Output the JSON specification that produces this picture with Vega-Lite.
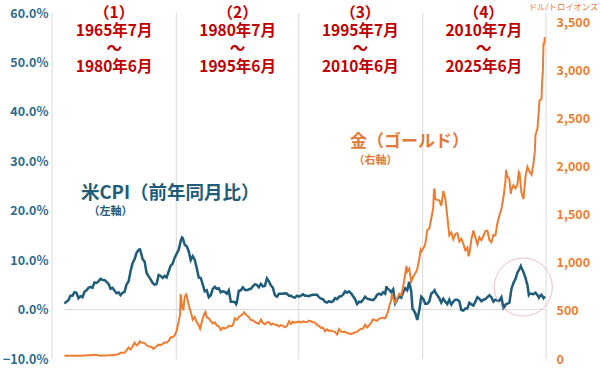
{
"$schema": "https://vega.github.io/schema/vega-lite/v6.json",
"width": 494, "height": 346,
"autosize": {"type": "none"},
"padding": {"left": 52, "top": 13, "right": 54, "bottom": 32},
"background": "white",
"config": {"view": {"stroke": null}, "font": "Noto Sans CJK JP"},
"datasets": {
"cpi": [
{"t":1965.5,"v":1.2},{"t":1965.75,"v":1.6},{"t":1966.0,"v":1.9},{"t":1966.25,"v":2.8},{"t":1966.5,"v":2.8},{"t":1966.75,"v":3.5},{"t":1967.0,"v":3.4},{"t":1967.25,"v":2.3},{"t":1967.5,"v":2.7},{"t":1967.75,"v":2.5},
{"t":1968.0,"v":3.6},{"t":1968.25,"v":3.9},{"t":1968.5,"v":4.4},{"t":1968.75,"v":4.6},{"t":1969.0,"v":4.4},{"t":1969.25,"v":5.5},{"t":1969.5,"v":5.4},{"t":1969.75,"v":5.7},
{"t":1970.0,"v":6.2},{"t":1970.25,"v":6.0},{"t":1970.5,"v":6.0},{"t":1970.75,"v":5.6},{"t":1971.0,"v":5.2},{"t":1971.25,"v":4.2},{"t":1971.5,"v":4.4},{"t":1971.75,"v":3.8},
{"t":1972.0,"v":3.3},{"t":1972.25,"v":3.5},{"t":1972.5,"v":2.9},{"t":1972.75,"v":3.4},{"t":1973.0,"v":3.6},{"t":1973.25,"v":5.1},{"t":1973.5,"v":5.7},{"t":1973.75,"v":7.8},
{"t":1974.0,"v":9.4},{"t":1974.25,"v":10.2},{"t":1974.5,"v":11.5},{"t":1974.75,"v":12.1},{"t":1974.917,"v":12.2},{"t":1975.0,"v":11.8},{"t":1975.25,"v":10.2},{"t":1975.5,"v":9.7},{"t":1975.75,"v":7.4},
{"t":1976.0,"v":6.7},{"t":1976.25,"v":6.1},{"t":1976.5,"v":5.4},{"t":1976.75,"v":5.0},{"t":1977.0,"v":5.2},{"t":1977.25,"v":7.0},{"t":1977.5,"v":6.8},{"t":1977.75,"v":6.4},
{"t":1978.0,"v":6.8},{"t":1978.25,"v":6.5},{"t":1978.5,"v":7.7},{"t":1978.75,"v":8.9},{"t":1979.0,"v":9.3},{"t":1979.25,"v":10.5},{"t":1979.5,"v":11.3},{"t":1979.75,"v":12.1},
{"t":1980.0,"v":13.9},{"t":1980.167,"v":14.6},{"t":1980.25,"v":14.5},{"t":1980.5,"v":13.1},{"t":1980.75,"v":12.8},{"t":1981.0,"v":11.8},{"t":1981.25,"v":10.0},{"t":1981.5,"v":10.8},{"t":1981.75,"v":10.1},
{"t":1982.0,"v":8.4},{"t":1982.25,"v":6.5},{"t":1982.5,"v":6.4},{"t":1982.75,"v":5.1},{"t":1983.0,"v":3.7},{"t":1983.25,"v":3.9},{"t":1983.5,"v":2.5},{"t":1983.75,"v":2.9},
{"t":1984.0,"v":4.2},{"t":1984.25,"v":4.6},{"t":1984.5,"v":4.2},{"t":1984.75,"v":4.3},{"t":1985.0,"v":3.5},{"t":1985.25,"v":3.7},{"t":1985.5,"v":3.6},{"t":1985.75,"v":3.2},
{"t":1986.0,"v":3.9},{"t":1986.25,"v":1.6},{"t":1986.5,"v":1.6},{"t":1986.75,"v":1.5},{"t":1986.917,"v":1.1},{"t":1987.0,"v":1.5},{"t":1987.25,"v":3.8},{"t":1987.5,"v":3.9},{"t":1987.75,"v":4.5},
{"t":1988.0,"v":4.0},{"t":1988.25,"v":3.9},{"t":1988.5,"v":4.1},{"t":1988.75,"v":4.2},{"t":1989.0,"v":4.7},{"t":1989.25,"v":5.1},{"t":1989.5,"v":5.0},{"t":1989.75,"v":4.5},
{"t":1990.0,"v":5.2},{"t":1990.25,"v":4.7},{"t":1990.5,"v":4.8},{"t":1990.75,"v":6.3},{"t":1991.0,"v":5.7},{"t":1991.25,"v":4.9},{"t":1991.5,"v":4.4},{"t":1991.75,"v":2.9},
{"t":1992.0,"v":2.6},{"t":1992.25,"v":3.2},{"t":1992.5,"v":3.2},{"t":1992.75,"v":3.2},{"t":1993.0,"v":3.3},{"t":1993.25,"v":3.2},{"t":1993.5,"v":2.8},{"t":1993.75,"v":2.8},
{"t":1994.0,"v":2.5},{"t":1994.25,"v":2.4},{"t":1994.5,"v":2.8},{"t":1994.75,"v":2.6},{"t":1995.0,"v":2.8},{"t":1995.25,"v":3.1},{"t":1995.5,"v":2.8},{"t":1995.75,"v":2.8},
{"t":1996.0,"v":2.7},{"t":1996.25,"v":2.9},{"t":1996.5,"v":3.0},{"t":1996.75,"v":3.0},{"t":1997.0,"v":3.0},{"t":1997.25,"v":2.5},{"t":1997.5,"v":2.2},{"t":1997.75,"v":2.1},
{"t":1998.0,"v":1.6},{"t":1998.25,"v":1.4},{"t":1998.5,"v":1.7},{"t":1998.75,"v":1.5},{"t":1999.0,"v":1.7},{"t":1999.25,"v":2.3},{"t":1999.5,"v":2.1},{"t":1999.75,"v":2.6},
{"t":2000.0,"v":2.7},{"t":2000.25,"v":3.0},{"t":2000.5,"v":3.7},{"t":2000.75,"v":3.4},{"t":2001.0,"v":3.7},{"t":2001.25,"v":3.3},{"t":2001.5,"v":2.7},{"t":2001.75,"v":2.1},
{"t":2002.0,"v":1.1},{"t":2002.25,"v":1.6},{"t":2002.5,"v":1.5},{"t":2002.75,"v":2.0},{"t":2003.0,"v":2.6},{"t":2003.25,"v":2.2},{"t":2003.5,"v":2.1},{"t":2003.75,"v":2.0},
{"t":2004.0,"v":1.9},{"t":2004.25,"v":2.3},{"t":2004.5,"v":3.0},{"t":2004.75,"v":3.2},{"t":2005.0,"v":3.0},{"t":2005.25,"v":3.5},{"t":2005.5,"v":3.2},{"t":2005.667,"v":4.7},{"t":2005.75,"v":4.3},
{"t":2006.0,"v":4.0},{"t":2006.25,"v":3.5},{"t":2006.5,"v":4.1},{"t":2006.75,"v":1.3},{"t":2007.0,"v":2.1},{"t":2007.25,"v":2.6},{"t":2007.5,"v":2.4},{"t":2007.75,"v":3.5},
{"t":2008.0,"v":4.3},{"t":2008.25,"v":3.9},{"t":2008.5,"v":5.6},{"t":2008.75,"v":3.7},{"t":2008.917,"v":0.1},{"t":2009.0,"v":0.0},{"t":2009.25,"v":-0.7},{"t":2009.5,"v":-2.1},{"t":2009.75,"v":-0.2},
{"t":2010.0,"v":2.6},{"t":2010.25,"v":2.2},{"t":2010.5,"v":1.2},{"t":2010.75,"v":1.2},{"t":2011.0,"v":1.6},{"t":2011.25,"v":3.2},{"t":2011.5,"v":3.6},{"t":2011.667,"v":3.9},{"t":2011.75,"v":3.5},
{"t":2012.0,"v":2.9},{"t":2012.25,"v":2.3},{"t":2012.5,"v":1.4},{"t":2012.75,"v":2.2},{"t":2013.0,"v":1.6},{"t":2013.25,"v":1.1},{"t":2013.5,"v":2.0},{"t":2013.75,"v":1.0},
{"t":2014.0,"v":1.6},{"t":2014.25,"v":2.0},{"t":2014.5,"v":2.0},{"t":2014.75,"v":1.7},{"t":2015.0,"v":-0.1},{"t":2015.25,"v":-0.2},{"t":2015.5,"v":0.2},{"t":2015.75,"v":0.2},
{"t":2016.0,"v":1.4},{"t":2016.25,"v":1.1},{"t":2016.5,"v":0.8},{"t":2016.75,"v":1.6},{"t":2017.0,"v":2.5},{"t":2017.25,"v":2.2},{"t":2017.5,"v":1.7},{"t":2017.75,"v":2.0},
{"t":2018.0,"v":2.1},{"t":2018.25,"v":2.5},{"t":2018.5,"v":2.9},{"t":2018.75,"v":2.5},{"t":2019.0,"v":1.6},{"t":2019.25,"v":2.0},{"t":2019.5,"v":1.8},{"t":2019.75,"v":1.8},
{"t":2020.0,"v":2.5},{"t":2020.25,"v":0.3},{"t":2020.417,"v":0.6},{"t":2020.5,"v":1.0},{"t":2020.75,"v":1.2},{"t":2021.0,"v":1.4},{"t":2021.25,"v":4.2},{"t":2021.5,"v":5.4},{"t":2021.75,"v":6.2},
{"t":2022.0,"v":7.5},{"t":2022.25,"v":8.2},{"t":2022.417,"v":8.8},{"t":2022.5,"v":8.4},{"t":2022.75,"v":7.6},{"t":2023.0,"v":6.4},{"t":2023.25,"v":4.9},{"t":2023.417,"v":3.0},{"t":2023.5,"v":3.2},{"t":2023.75,"v":3.2},
{"t":2024.0,"v":3.1},{"t":2024.25,"v":3.4},{"t":2024.5,"v":2.9},{"t":2024.667,"v":2.4},{"t":2024.75,"v":2.6},{"t":2024.917,"v":2.9},{"t":2025.0,"v":3.0},{"t":2025.25,"v":2.3},{"t":2025.417,"v":2.7}
],
"gold": [
{"t":1965.5,"g":35},{"t":1966.0,"g":35},{"t":1966.5,"g":35},{"t":1967.0,"g":35},{"t":1967.5,"g":35},{"t":1968.0,"g":35.2},{"t":1968.25,"g":38},{"t":1968.5,"g":39.5},{"t":1968.75,"g":39},
{"t":1969.0,"g":42},{"t":1969.25,"g":43},{"t":1969.5,"g":42},{"t":1969.75,"g":40},{"t":1970.0,"g":35},{"t":1970.25,"g":36},{"t":1970.5,"g":35.3},{"t":1970.75,"g":37.5},
{"t":1971.0,"g":38},{"t":1971.25,"g":39},{"t":1971.5,"g":41},{"t":1971.75,"g":42.5},{"t":1972.0,"g":46},{"t":1972.25,"g":49},{"t":1972.5,"g":65},{"t":1972.75,"g":64},
{"t":1973.0,"g":65},{"t":1973.25,"g":90},{"t":1973.5,"g":120},{"t":1973.75,"g":100},{"t":1974.0,"g":130},{"t":1974.25,"g":170},{"t":1974.5,"g":143},{"t":1974.75,"g":158},{"t":1974.917,"g":183},
{"t":1975.0,"g":176},{"t":1975.25,"g":169},{"t":1975.5,"g":165},{"t":1975.75,"g":143},{"t":1976.0,"g":131},{"t":1976.25,"g":128},{"t":1976.5,"g":117},{"t":1976.583,"g":105},{"t":1976.75,"g":117},
{"t":1977.0,"g":133},{"t":1977.25,"g":149},{"t":1977.5,"g":144},{"t":1977.75,"g":158},{"t":1978.0,"g":173},{"t":1978.25,"g":170},{"t":1978.5,"g":188},{"t":1978.75,"g":226},
{"t":1979.0,"g":227},{"t":1979.25,"g":245},{"t":1979.5,"g":296},{"t":1979.75,"g":392},{"t":1979.917,"g":459},{"t":1980.0,"g":675},{"t":1980.167,"g":554},{"t":1980.25,"g":517},{"t":1980.333,"g":514},
{"t":1980.5,"g":644},{"t":1980.667,"g":674},{"t":1980.75,"g":661},{"t":1980.917,"g":594},{"t":1981.0,"g":557},{"t":1981.25,"g":494},{"t":1981.5,"g":409},{"t":1981.75,"g":436},
{"t":1982.0,"g":384},{"t":1982.25,"g":350},{"t":1982.417,"g":315},{"t":1982.5,"g":339},{"t":1982.75,"g":423},{"t":1983.0,"g":480},{"t":1983.083,"g":490},{"t":1983.25,"g":432},{"t":1983.5,"g":423},{"t":1983.75,"g":394},
{"t":1984.0,"g":370},{"t":1984.25,"g":381},{"t":1984.5,"g":348},{"t":1984.75,"g":340},{"t":1985.0,"g":303},{"t":1985.25,"g":325},{"t":1985.5,"g":317},{"t":1985.75,"g":326},
{"t":1986.0,"g":345},{"t":1986.25,"g":340},{"t":1986.5,"g":348},{"t":1986.75,"g":423},{"t":1987.0,"g":408},{"t":1987.25,"g":438},{"t":1987.5,"g":451},{"t":1987.75,"g":465},{"t":1987.917,"g":486},
{"t":1988.0,"g":477},{"t":1988.25,"g":452},{"t":1988.5,"g":437},{"t":1988.75,"g":406},{"t":1989.0,"g":404},{"t":1989.25,"g":385},{"t":1989.5,"g":375},{"t":1989.75,"g":367},
{"t":1990.0,"g":410},{"t":1990.25,"g":375},{"t":1990.5,"g":362},{"t":1990.75,"g":380},{"t":1991.0,"g":383},{"t":1991.25,"g":357},{"t":1991.5,"g":368},{"t":1991.75,"g":358},
{"t":1992.0,"g":354},{"t":1992.25,"g":338},{"t":1992.5,"g":353},{"t":1992.75,"g":345},{"t":1993.0,"g":329},{"t":1993.25,"g":342},{"t":1993.5,"g":392},{"t":1993.75,"g":364},
{"t":1994.0,"g":387},{"t":1994.25,"g":377},{"t":1994.5,"g":385},{"t":1994.75,"g":389},{"t":1995.0,"g":379},{"t":1995.25,"g":391},{"t":1995.5,"g":385},{"t":1995.75,"g":383},
{"t":1996.0,"g":400},{"t":1996.25,"g":393},{"t":1996.5,"g":383},{"t":1996.75,"g":381},{"t":1997.0,"g":355},{"t":1997.25,"g":344},{"t":1997.5,"g":324},{"t":1997.75,"g":325},
{"t":1998.0,"g":289},{"t":1998.25,"g":308},{"t":1998.5,"g":293},{"t":1998.75,"g":296},{"t":1999.0,"g":287},{"t":1999.25,"g":282},{"t":1999.5,"g":256},{"t":1999.75,"g":311},
{"t":2000.0,"g":284},{"t":2000.25,"g":280},{"t":2000.5,"g":282},{"t":2000.75,"g":270},{"t":2001.0,"g":265},{"t":2001.25,"g":261},{"t":2001.5,"g":268},{"t":2001.75,"g":279},
{"t":2002.0,"g":282},{"t":2002.25,"g":302},{"t":2002.5,"g":314},{"t":2002.75,"g":317},{"t":2003.0,"g":357},{"t":2003.25,"g":328},{"t":2003.5,"g":351},{"t":2003.75,"g":379},
{"t":2004.0,"g":413},{"t":2004.25,"g":404},{"t":2004.5,"g":398},{"t":2004.75,"g":420},{"t":2005.0,"g":424},{"t":2005.25,"g":429},{"t":2005.5,"g":424},{"t":2005.75,"g":470},{"t":2005.917,"g":510},
{"t":2006.0,"g":550},{"t":2006.25,"g":610},{"t":2006.333,"g":676},{"t":2006.5,"g":633},{"t":2006.75,"g":585},{"t":2007.0,"g":631},{"t":2007.25,"g":679},{"t":2007.5,"g":665},{"t":2007.75,"g":754},
{"t":2008.0,"g":889},{"t":2008.167,"g":968},{"t":2008.25,"g":909},{"t":2008.5,"g":940},{"t":2008.75,"g":807},{"t":2009.0,"g":858},{"t":2009.25,"g":890},{"t":2009.5,"g":934},{"t":2009.75,"g":1043},{"t":2009.917,"g":1135},
{"t":2010.0,"g":1118},{"t":2010.25,"g":1149},{"t":2010.5,"g":1193},{"t":2010.75,"g":1343},{"t":2011.0,"g":1356},{"t":2011.25,"g":1462},{"t":2011.5,"g":1572},{"t":2011.583,"g":1756},{"t":2011.667,"g":1772},{"t":2011.75,"g":1665},
{"t":2012.0,"g":1656},{"t":2012.25,"g":1650},{"t":2012.5,"g":1594},{"t":2012.75,"g":1747},{"t":2013.0,"g":1670},{"t":2013.25,"g":1485},{"t":2013.5,"g":1286},{"t":2013.75,"g":1316},
{"t":2014.0,"g":1244},{"t":2014.25,"g":1299},{"t":2014.5,"g":1311},{"t":2014.75,"g":1222},{"t":2015.0,"g":1251},{"t":2015.25,"g":1198},{"t":2015.5,"g":1131},{"t":2015.75,"g":1159},{"t":2015.917,"g":1068},
{"t":2016.0,"g":1097},{"t":2016.25,"g":1242},{"t":2016.5,"g":1337},{"t":2016.75,"g":1266},{"t":2017.0,"g":1192},{"t":2017.25,"g":1267},{"t":2017.5,"g":1236},{"t":2017.75,"g":1280},
{"t":2018.0,"g":1331},{"t":2018.25,"g":1335},{"t":2018.5,"g":1239},{"t":2018.75,"g":1215},{"t":2019.0,"g":1291},{"t":2019.25,"g":1285},{"t":2019.5,"g":1413},{"t":2019.75,"g":1495},
{"t":2020.0,"g":1560},{"t":2020.25,"g":1680},{"t":2020.5,"g":1847},{"t":2020.583,"g":1968},{"t":2020.75,"g":1900},{"t":2021.0,"g":1867},{"t":2021.167,"g":1718},{"t":2021.25,"g":1760},{"t":2021.5,"g":1807},{"t":2021.75,"g":1777},
{"t":2022.0,"g":1817},{"t":2022.167,"g":1947},{"t":2022.25,"g":1937},{"t":2022.5,"g":1733},{"t":2022.75,"g":1665},{"t":2023.0,"g":1898},{"t":2023.25,"g":2000},{"t":2023.5,"g":1950},{"t":2023.75,"g":1916},
{"t":2024.0,"g":2034},{"t":2024.167,"g":2160},{"t":2024.25,"g":2330},{"t":2024.5,"g":2398},{"t":2024.75,"g":2690},{"t":2025.0,"g":2708},{"t":2025.083,"g":2895},{"t":2025.167,"g":2984},{"t":2025.25,"g":3280},{"t":2025.333,"g":3280},{"t":2025.417,"g":3350}
],
"grid": [{"t":1963.95},{"t":1979.45},{"t":1994.73},{"t":2010.18},{"t":2025.56}],
"periods": [
{"t":1971.7,"lines":["（1）","1965年7月","～","1980年6月"]},
{"t":1987.1,"lines":["（2）","1980年7月","～","1995年6月"]},
{"t":2002.4,"lines":["（3）","1995年7月","～","2010年6月"]},
{"t":2017.8,"lines":["（4）","2010年7月","～","2025年6月"]}
]
},
"layer": [
{
"layer": [
{"data": {"name": "grid"}, "mark": {"type": "rule", "color": "#d9d9d9", "strokeWidth": 1},
 "encoding": {"x": {"field": "t", "type": "quantitative", "axis": null}}},
{"data": {"values": [{}]}, "mark": {"type": "rule", "color": "#d9d9d9", "strokeWidth": 1},
 "encoding": {"y": {"datum": 0, "type": "quantitative"}, "x": {"datum": 1965.4, "type": "quantitative"}, "x2": {"datum": 2025.56}}},
{"data": {"name": "cpi"}, "mark": {"type": "line", "color": "#1f5c7a", "strokeWidth": 2.5},
 "encoding": {
  "x": {"field": "t", "type": "quantitative", "scale": {"domain": [1963.95, 2025.56], "nice": false, "zero": false},
   "axis": {"values": [1965.5, 1975.5, 1985.5, 1995.5, 2005.5, 2015.5, 2025.5], "labelExpr": "(floor(datum.value) % 100 < 10 ? '0' : '') + (floor(datum.value) % 100) + '年'", "domain": false, "ticks": false, "grid": false, "labelFlush": false, "labelPadding": 13, "labelColor": "#808080", "labelFontSize": 12, "title": null}},
  "y": {"field": "v", "type": "quantitative", "scale": {"domain": [-10, 60], "nice": false, "zero": false},
   "axis": {"values": [-10, 0, 10, 20, 30, 40, 50, 60], "labelExpr": "format(datum.value, '.1f') + '%'", "domain": false, "ticks": false, "grid": false, "labelFlush": false, "labelPadding": 4, "labelColor": "#2e6a8b", "labelFontWeight": "bold", "labelFontSize": 12.5, "title": null}}
 }},
{"data": {"values": [{"t": 2022.73, "v": 4.55}]}, "mark": {"type": "point", "shape": "circle", "filled": false, "stroke": "#e8a5b5", "strokeWidth": 1, "size": 3380},
 "encoding": {"x": {"field": "t", "type": "quantitative"}, "y": {"field": "v", "type": "quantitative"}}},
{"data": {"name": "periods"}, "mark": {"type": "text", "color": "#c00000", "fontSize": 15.5, "fontWeight": "bold", "lineHeight": 18, "align": "center", "baseline": "top", "dy": -7},
 "encoding": {"x": {"field": "t", "type": "quantitative"}, "y": {"datum": 60, "type": "quantitative"}, "text": {"field": "lines"}}},
{"data": {"values": [{}]}, "mark": {"type": "text", "color": "#1f5c7a", "fontSize": 18.5, "fontWeight": "bold", "align": "center", "baseline": "middle"},
 "encoding": {"x": {"datum": 1978.7, "type": "quantitative"}, "y": {"datum": 23.65, "type": "quantitative"}, "text": {"value": "米CPI（前年同月比）"}}},
{"data": {"values": [{}]}, "mark": {"type": "text", "color": "#1f5c7a", "fontSize": 11, "fontWeight": "bold", "align": "center", "baseline": "middle"},
 "encoding": {"x": {"datum": 1971.26, "type": "quantitative"}, "y": {"datum": 19.8, "type": "quantitative"}, "text": {"value": "（左軸）"}}}
]
},
{
"layer": [
{"data": {"name": "gold"}, "mark": {"type": "line", "color": "#ed7d31", "strokeWidth": 2},
 "encoding": {
  "x": {"field": "t", "type": "quantitative"},
  "y": {"field": "g", "type": "quantitative", "scale": {"domain": [0, 3600], "nice": false, "zero": false},
   "axis": {"values": [0, 500, 1000, 1500, 2000, 2500, 3000, 3500], "format": ",d", "domain": false, "ticks": false, "grid": false, "labelFlush": false, "labelPadding": 10, "labelColor": "#ed7d31", "labelFontWeight": "bold", "labelFontSize": 12.5,
    "title": "ドル/トロイオンス", "titleAngle": 0, "titleX": 17, "titleY": -6, "titleAlign": "center", "titleBaseline": "middle", "titleFontSize": 8.3, "titleFontWeight": "normal", "titleColor": "#ed7d31"}}
 }},
{"data": {"values": [{}]}, "mark": {"type": "text", "color": "#e07b39", "fontSize": 17, "fontWeight": "bold", "align": "center", "baseline": "middle"},
 "encoding": {"x": {"datum": 2008.53, "type": "quantitative"}, "y": {"datum": 2258, "type": "quantitative"}, "text": {"value": "金（ゴールド）"}}},
{"data": {"values": [{}]}, "mark": {"type": "text", "color": "#e07b39", "fontSize": 11, "fontWeight": "bold", "align": "center", "baseline": "middle"},
 "encoding": {"x": {"datum": 2004.3, "type": "quantitative"}, "y": {"datum": 2060, "type": "quantitative"}, "text": {"value": "（右軸）"}}}
]
}
],
"resolve": {"scale": {"y": "independent"}, "axis": {"y": "independent"}}
}
